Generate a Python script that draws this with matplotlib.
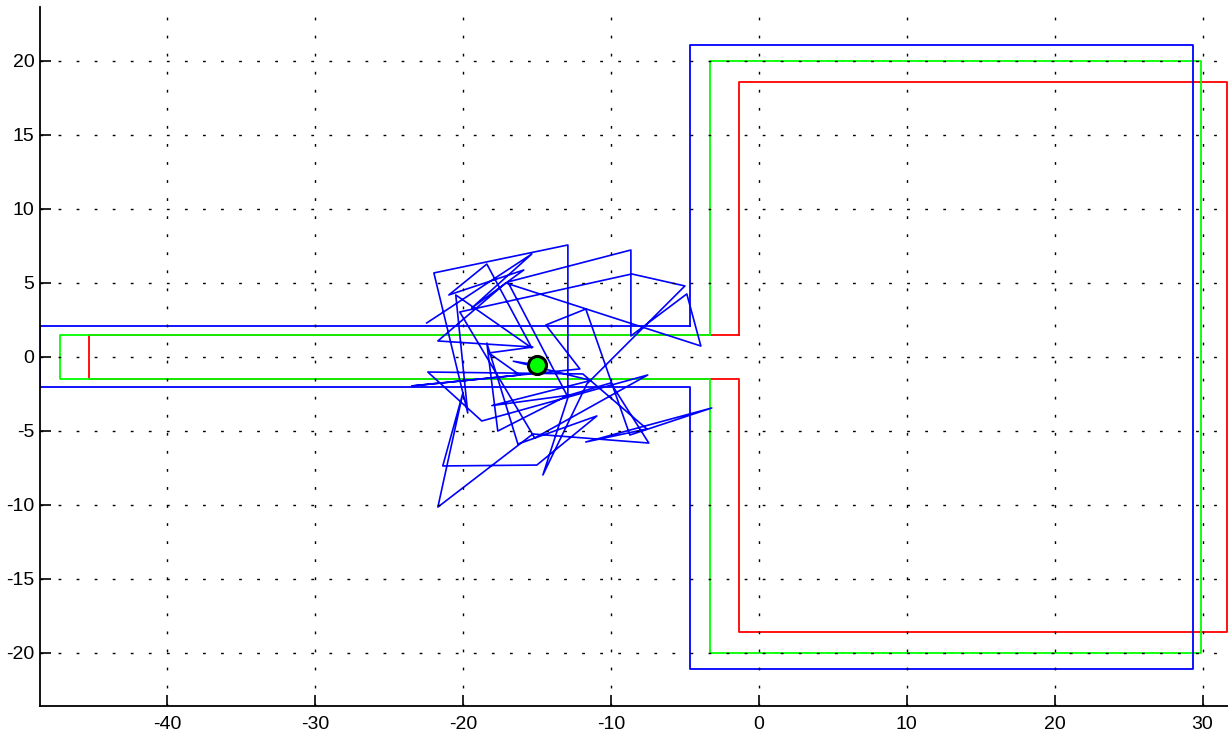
import matplotlib
matplotlib.use('Agg')
import matplotlib.pyplot as plt

plt.rcParams['font.family'] = 'Liberation Sans'
plt.rcParams['font.size'] = 14
plt.rcParams['axes.unicode_minus'] = False

# walls: outer (blue), middle (green), inner (red)
blue_x = [-4.67, -48.6, -48.6, -4.67, -4.67, 29.34, 29.34, -4.67, -4.67]
blue_y = [2.05, 2.05, -2.05, -2.05, -21.1, -21.1, 21.1, 21.1, 2.05]
green_x = [-3.27, -47.26, -47.26, -3.27, -3.27, 29.9, 29.9, -3.27, -3.27]
green_y = [1.5, 1.5, -1.5, -1.5, -20.0, -20.0, 20.0, 20.0, 1.5]
red_x = [-1.37, -45.3, -45.3, -1.37, -1.37, 31.67, 31.67, -1.37, -1.37]
red_y = [1.5, 1.5, -1.5, -1.5, -18.58, -18.58, 18.58, 18.58, 1.5]

# wandering path
path_x = [-22.45, -15.35, -19.41, -15.89, -20.96, -18.39, -15.35, -20.49, -19.68,
          -21.97, -12.91, -12.91, -16.97, -8.65, -8.65, -4.87, -3.92, -17.11,
          -21.70, -15.28, -18.26, -16.16, -23.46, -12.10, -14.40, -11.70, -8.72,
          -3.18, -11.70, -7.57, -11.90, -22.38, -18.73, -7.51, -15.15, -20.22,
          -8.59, -5.00, -11.63, -14.60, -12.85, -17.65, -18.39, -16.29, -10.95,
          -15.01, -21.37, -20.01, -21.70, -15.28, -7.44, -10.01, -12.85, -18.05,
          -11.35, -16.60, -15.01]
path_y = [2.29, 6.95, 3.30, 5.87, 4.18, 6.27, 0.60, 4.18, -3.80,
          5.67, 7.56, -2.72, 5.06, 7.22, 1.41, 4.25, 0.73, 4.99,
          1.07, 0.66, 0.26, -1.23, -1.97, -0.82, 2.15, 3.23, -5.29,
          -3.46, -5.76, -4.88, -1.16, -1.03, -4.34, -1.23, -5.49, 3.03,
          5.60, 4.79, -1.84, -7.99, -2.58, -5.02, 0.93, -5.90, -4.00,
          -7.32, -7.38, -2.45, -10.16, -5.22, -5.83, -1.77, -2.60, -3.30,
          -1.60, -0.30, -0.55]
robot = (-15.01, -0.55)

fig = plt.figure(figsize=(12.28, 7.4), dpi=100)
ax = fig.add_axes([40/1228, 34/740, 1188/1228, 699/740])

ax.plot(red_x, red_y, color='#ff0000', lw=1.3, clip_on=False)
ax.plot(green_x, green_y, color='#00ff00', lw=1.3)
ax.plot(blue_x, blue_y, color='#0000ff', lw=1.3)
ax.plot(path_x, path_y, color='#0000ff', lw=1.2)
ax.plot(robot[0], robot[1], 'o', ms=13, mfc='#00ff00', mec='black', mew=2.2, zorder=5)

ax.set_xlim(-48.6, 31.72)
ax.set_ylim(-23.61, 23.65)
ax.set_xticks([-40, -30, -20, -10, 0, 10, 20, 30])
ax.set_yticks([-20, -15, -10, -5, 0, 5, 10, 15, 20])

ax.set_axisbelow(False)
ax.grid(True, color='black', lw=1, linestyle=(0, (2, 11)))
ax.spines['top'].set_visible(False)
ax.spines['right'].set_visible(False)
ax.spines['left'].set_linewidth(1.3)
ax.spines['bottom'].set_linewidth(1.3)
ax.tick_params(axis='both', direction='in', length=8, width=1.2)
ax.tick_params(axis='x', pad=7)
ax.tick_params(axis='y', pad=4)

fig.savefig('out.png', dpi=100)
